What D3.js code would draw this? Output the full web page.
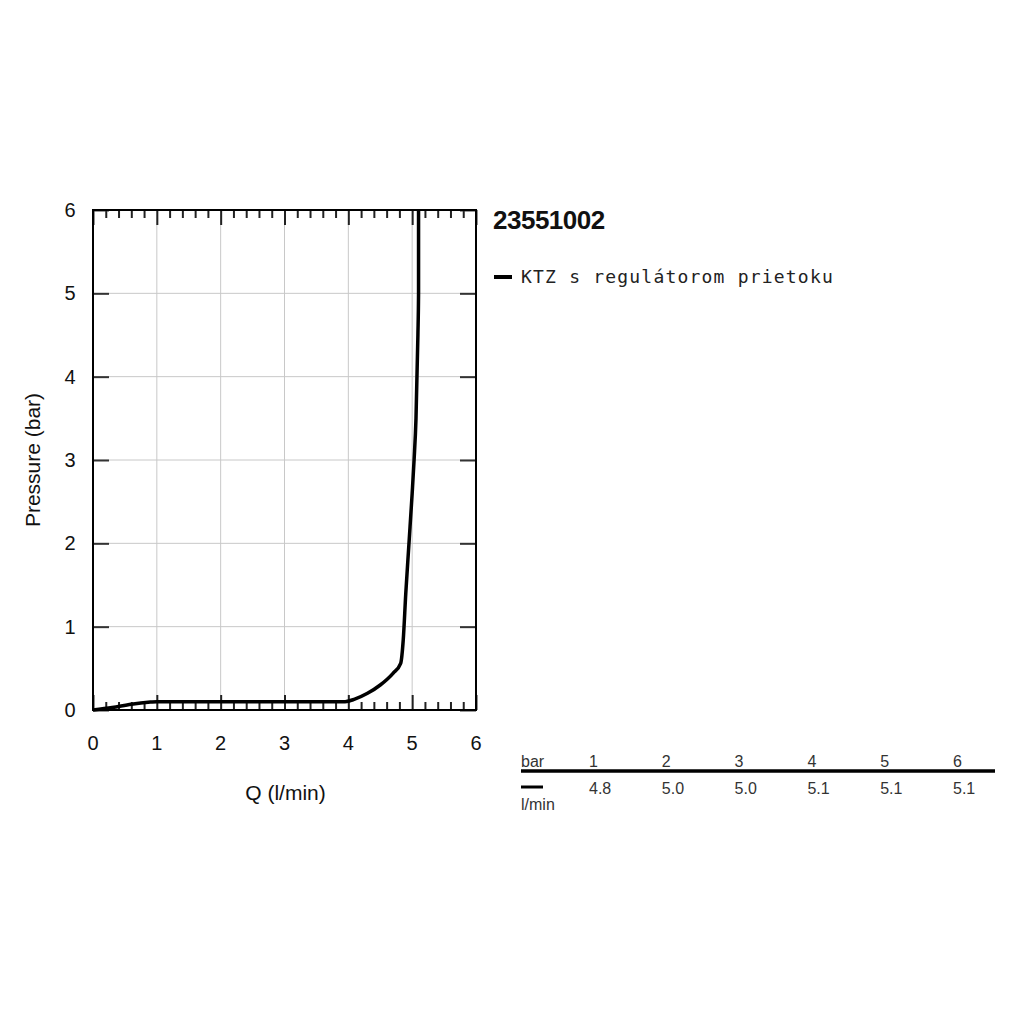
<!DOCTYPE html>
<html>
<head>
<meta charset="utf-8">
<script src="https://cdn.jsdelivr.net/npm/d3@7"></script>
<style>
  body { margin: 0; background: #fff; }
  text { font-family: "Liberation Sans", Arial, sans-serif; fill: #111; }
</style>
</head>
<body>
<svg id="chart" width="1023" height="1023"></svg>
<script>
// ---- data ----
var curveQ = [0, 0.3, 0.6, 0.9, 1.0, 2.0, 3.0, 3.95, 4.1, 4.3, 4.5, 4.7, 4.82, 4.86, 4.9, 4.95, 5.0, 5.03, 5.06, 5.09, 5.1, 5.1];
var curveP = [0, 0.03, 0.07, 0.095, 0.1, 0.1, 0.1, 0.1, 0.13, 0.2, 0.3, 0.44, 0.56, 0.84, 1.4, 2.0, 2.6, 3.0, 3.5, 4.5, 5.0, 6.0];
var xTicks = [0, 1, 2, 3, 4, 5, 6];
var yTicks = [0, 1, 2, 3, 4, 5, 6];
var tablePressure = ['1', '2', '3', '4', '5', '6'];
var tableFlow = ['4.8', '5.0', '5.0', '5.1', '5.1', '5.1'];
var title = '23551002';
var seriesName = 'KTZ s regulátorom prietoku';

// ---- setup ----
var svg = d3.select('#chart');
var pLeft = 93, pRight = 476, pTop = 210, pBottom = 710;

var x = d3.scaleLinear().domain([0, 6]).range([pLeft, pRight]);
var y = d3.scaleLinear().domain([0, 6]).range([pBottom, pTop]);

var line_gen = d3.line().x((d) => x(d.q)).y((d) => y(d.p)).curve(d3.curveMonotoneX);
var points = curveQ.map((q, i) => ({ q: q, p: curveP[i] }));

// grid
svg.append('g').selectAll('line').data(xTicks.slice(1, -1)).join('line')
  .attr('x1', (d) => x(d)).attr('x2', (d) => x(d)).attr('y1', pTop).attr('y2', pBottom)
  .attr('stroke', '#c8c8c8').attr('stroke-width', 1);
svg.append('g').selectAll('line').data(yTicks.slice(1, -1)).join('line')
  .attr('y1', (d) => y(d)).attr('y2', (d) => y(d)).attr('x1', pLeft).attr('x2', pRight)
  .attr('stroke', '#c8c8c8').attr('stroke-width', 1);

// inward ticks: x minor + major on bottom and top, y major on left and right
var xMinor = d3.range(0, 6.001, 0.2).filter((d) => Math.abs(d - Math.round(d)) > 0.01);
[
  d3.axisTop(x).tickValues(xTicks).tickSize(15).tickFormat(''),
  d3.axisTop(x).tickValues(xMinor).tickSize(8).tickFormat('')
].forEach((ax) => {
  svg.append('g').attr('transform', 'translate(0,' + pBottom + ')').call(ax)
    .call((g) => g.select('.domain').remove())
    .selectAll('line').attr('stroke', '#222').attr('stroke-width', 2);
});
[
  d3.axisBottom(x).tickValues(xTicks).tickSize(15).tickFormat(''),
  d3.axisBottom(x).tickValues(xMinor).tickSize(8).tickFormat('')
].forEach((ax) => {
  svg.append('g').attr('transform', 'translate(0,' + pTop + ')').call(ax)
    .call((g) => g.select('.domain').remove())
    .selectAll('line').attr('stroke', '#222').attr('stroke-width', 2);
});
svg.append('g').attr('transform', 'translate(' + pLeft + ',0)')
  .call(d3.axisRight(y).tickValues(yTicks).tickSize(16).tickFormat(''))
  .call((g) => g.select('.domain').remove())
  .selectAll('line').attr('stroke', '#333').attr('stroke-width', 2);
svg.append('g').attr('transform', 'translate(' + pRight + ',0)')
  .call(d3.axisLeft(y).tickValues(yTicks).tickSize(16).tickFormat(''))
  .call((g) => g.select('.domain').remove())
  .selectAll('line').attr('stroke', '#333').attr('stroke-width', 2);

// tick labels
svg.append('g').selectAll('text').data(xTicks).join('text')
  .attr('x', (d) => x(d)).attr('y', pBottom + 40)
  .attr('text-anchor', 'middle').attr('font-size', 20).text((d) => d);
svg.append('g').selectAll('text').data(yTicks).join('text')
  .attr('x', pLeft - 23).attr('y', (d) => y(d) + 7)
  .attr('text-anchor', 'middle').attr('font-size', 20).text((d) => d);

// axis titles
svg.append('text').attr('x', (pLeft + pRight) / 2 + 1).attr('y', 800)
  .attr('text-anchor', 'middle').attr('font-size', 21).text('Q (l/min)');
svg.append('text').attr('transform', 'translate(40,' + y(3) + ') rotate(-90)')
  .attr('text-anchor', 'middle').attr('font-size', 21).text('Pressure (bar)');

// frame
svg.append('rect').attr('x', pLeft).attr('y', pTop).attr('width', pRight - pLeft).attr('height', pBottom - pTop)
  .attr('fill', 'none').attr('stroke', '#000').attr('stroke-width', 2);

// curve
svg.append('path').datum(points).attr('d', line_gen)
  .attr('fill', 'none').attr('stroke', '#000').attr('stroke-width', 3.5)
  .attr('stroke-linejoin', 'round');

// title + legend
svg.append('text').attr('x', 493).attr('y', 229).attr('font-size', 26).attr('font-weight', 'bold')
  .attr('letter-spacing', -0.5).text(title);
svg.append('line').attr('x1', 494).attr('x2', 512).attr('y1', 277).attr('y2', 277)
  .attr('stroke', '#000').attr('stroke-width', 4);
svg.append('text').attr('x', 521).attr('y', 283).attr('font-size', 18)
  .style('font-family', '"DejaVu Sans Mono", monospace').attr('letter-spacing', 1.2)
  .style('fill', '#222').text(seriesName);

// table
var col = d3.scalePoint().domain(tablePressure).range([589, 953]);
svg.append('text').attr('x', 521).attr('y', 767).attr('font-size', 16).style('fill', '#333').text('bar');
svg.append('line').attr('x1', 521).attr('x2', 995).attr('y1', 771).attr('y2', 771)
  .attr('stroke', '#000').attr('stroke-width', 3.5);
svg.append('g').selectAll('text').data(tablePressure).join('text')
  .attr('x', (d) => col(d)).attr('y', 767).attr('font-size', 16).style('fill', '#333').text((d) => d);
svg.append('g').selectAll('text').data(tableFlow).join('text')
  .attr('x', (d, i) => col(tablePressure[i])).attr('y', 794).attr('font-size', 16).style('fill', '#333').text((d) => d);
svg.append('line').attr('x1', 521).attr('x2', 543).attr('y1', 787).attr('y2', 787)
  .attr('stroke', '#000').attr('stroke-width', 3);
svg.append('text').attr('x', 521).attr('y', 810).attr('font-size', 16).style('fill', '#333').text('l/min');
</script>
</body>
</html>
